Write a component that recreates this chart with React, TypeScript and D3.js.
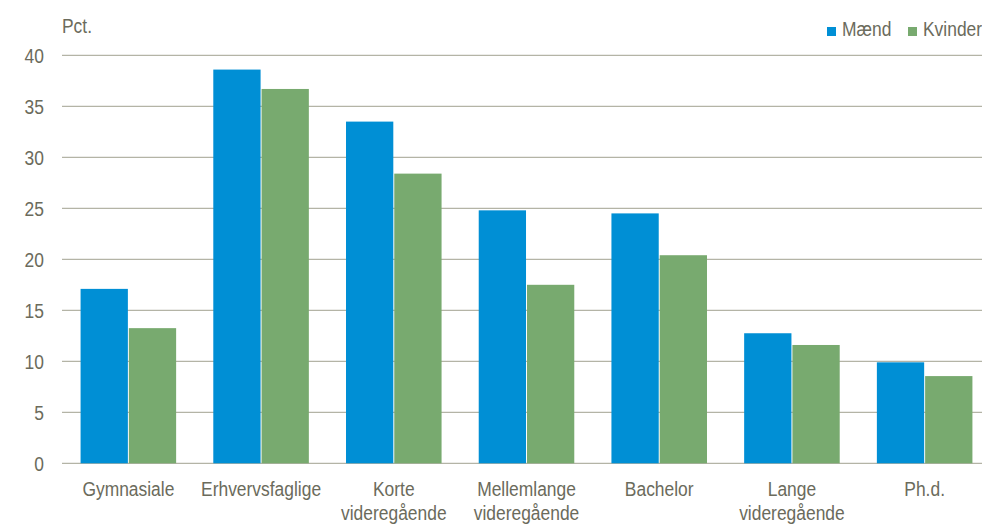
import { useEffect, useRef } from 'react';
import * as d3 from 'd3';

const categories = [
  ['Gymnasiale'],
  ['Erhvervsfaglige'],
  ['Korte', 'videregående'],
  ['Mellemlange', 'videregående'],
  ['Bachelor'],
  ['Lange', 'videregående'],
  ['Ph.d.'],
];
const series = ['Mænd', 'Kvinder'];
const maend = [17.1, 38.6, 33.5, 24.8, 24.5, 12.75, 9.9];
const kvinder = [13.25, 36.7, 28.4, 17.5, 20.4, 11.6, 8.55];
const yTicks = [0, 5, 10, 15, 20, 25, 30, 35, 40];

const width = 982;
const height = 526;
const colors = ['#008fd5', '#78aa6f'];
const textColor = '#6b6b5c';
const gridColor = '#b4b4a6';
const font = '"Liberation Sans", Arial, sans-serif';
const fontSize = 21;
const squeeze = 0.83; // the original font is a narrow one

type Sel = d3.Selection<SVGGElement, any, any, any>;

function label(parent: Sel, x: number, y: number, anchor: string, lines: string[]) {
  const t = parent.append('g')
    .attr('transform', `translate(${x},${y}) scale(${squeeze},1)`)
    .append('text')
    .attr('text-anchor', anchor)
    .attr('font-family', font)
    .attr('font-size', fontSize)
    .attr('fill', textColor);
  lines.forEach((l, i) => {
    t.append('tspan').attr('x', 0).attr('y', i * 24).text(l);
  });
}

export default function App() {
  const svgRef = useRef<SVGSVGElement>(null);

  useEffect(() => {
    document.body.style.margin = '0';
    if (!svgRef.current) return;
    const svg = d3.select(svgRef.current);
    svg.selectAll('*').remove();

    const keys = categories.map(c => c.join(' '));
    const x = d3.scaleBand<string>()
      .domain(keys)
      .range([62, 991])
      .paddingInner(0.28)
      .paddingOuter(0.14);
    const xs = d3.scaleBand<string>()
      .domain(series)
      .range([0, x.bandwidth()])
      .paddingInner(0.02);
    const y = d3.scaleLinear().domain([0, 40]).range([463.3, 55.3]);

    // gridlines
    svg.append('g')
      .selectAll('line')
      .data(yTicks)
      .enter()
      .append('line')
      .attr('x1', 62)
      .attr('x2', width)
      .attr('y1', d => y(d))
      .attr('y2', d => y(d))
      .attr('stroke', gridColor)
      .attr('stroke-width', 1.3);

    const texts = svg.append('g') as Sel;

    // y labels
    yTicks.forEach(t => label(texts, 44, y(t) + 7.5, 'end', [String(t)]));
    label(texts, 62, 33, 'start', ['Pct.']);

    // bars
    const groups = svg.append('g')
      .selectAll('g')
      .data(keys)
      .enter()
      .append('g')
      .attr('transform', d => `translate(${x(d)},0)`);

    groups.selectAll('rect')
      .data((_, i) => [maend[i], kvinder[i]].map((v, j) => ({ key: series[j], v, j })))
      .enter()
      .append('rect')
      .attr('x', d => xs(d.key)!)
      .attr('width', xs.bandwidth())
      .attr('y', d => y(d.v))
      .attr('height', d => y(0) - y(d.v))
      .attr('fill', d => colors[d.j]);

    // category labels
    categories.forEach((c, i) => {
      label(texts, x(keys[i])! + x.bandwidth() / 2, 496, 'middle', c);
    });

    // legend
    const legendX = [827, 908];
    const legend = svg.append('g');
    series.forEach((s, i) => {
      legend.append('rect')
        .attr('x', legendX[i])
        .attr('y', 27)
        .attr('width', 9)
        .attr('height', 9)
        .attr('fill', colors[i]);
      label(legend as Sel, legendX[i] + 15, 36, 'start', [s]);
    });
  }, []);

  return (
    <svg
      ref={svgRef}
      width={width}
      height={height}
      style={{ display: 'block', background: '#fff' }}
    />
  );
}
